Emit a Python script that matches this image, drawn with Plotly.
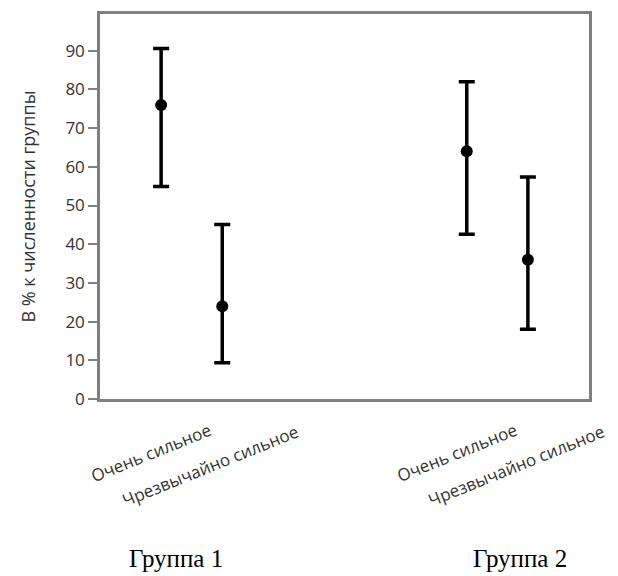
import plotly.graph_objects as go

categories = ["Очень сильное", "Чрезвычайно сильное", "Очень сильное", "Чрезвычайно сильное"]
x_pos = [0, 1, 5, 6]
means = [76, 24, 64, 36]
upper = [90.6, 45.1, 82.0, 57.4]
lower = [54.9, 9.4, 42.6, 18.0]
groups = ["Группа 1", "Группа 2"]
group_x = [0.25, 5.87]
y_ticks = [0, 10, 20, 30, 40, 50, 60, 70, 80, 90]

err_plus = [u - m for u, m in zip(upper, means)]
err_minus = [m - l for m, l in zip(means, lower)]

fig = go.Figure()
fig.add_trace(go.Scatter(
    x=x_pos, y=means, mode="markers",
    marker=dict(color="black", size=12),
    error_y=dict(type="data", symmetric=False, array=err_plus, arrayminus=err_minus,
                 color="black", thickness=3.5, width=8),
    showlegend=False, cliponaxis=False,
))

label_offsets = {"Очень сильное": (-10, -53), "Чрезвычайно сильное": (-12, -66)}
for xp, lab in zip(x_pos, categories):
    dx, dy = label_offsets[lab]
    fig.add_annotation(x=xp, y=0, xref="x", yref="y", text=lab, showarrow=False,
                       textangle=-22, yanchor="middle", xanchor="center",
                       yshift=dy, xshift=dx,
                       font=dict(family="Open Sans", size=17, color="#333"))

for gx, g in zip(group_x, groups):
    fig.add_annotation(x=gx, y=0, xref="x", yref="y", text=g, showarrow=False,
                       yanchor="middle", xanchor="center", yshift=-159,
                       font=dict(family="Liberation Serif", size=25, color="black"))

fig.update_layout(
    width=618, height=576,
    margin=dict(l=100, r=29, t=14, b=177),
    paper_bgcolor="white", plot_bgcolor="white",
    xaxis=dict(range=[-1, 7], showticklabels=False, ticks="", showgrid=False,
               zeroline=False, showline=True, linecolor="#808080", linewidth=2.5, mirror=True),
    yaxis=dict(range=[0, 99.5], tickvals=y_ticks, ticks="outside", ticklen=9,
               tickcolor="#808080", tickwidth=2,
               showgrid=False, zeroline=False, showline=True, linecolor="#808080",
               linewidth=2.5, mirror=True,
               tickfont=dict(family="Open Sans", size=17, color="#333"),
               title=dict(text="В % к численности группы", standoff=26,
                          font=dict(family="Open Sans", size=18, color="#333"))),
)
fig.write_html("out.html")
